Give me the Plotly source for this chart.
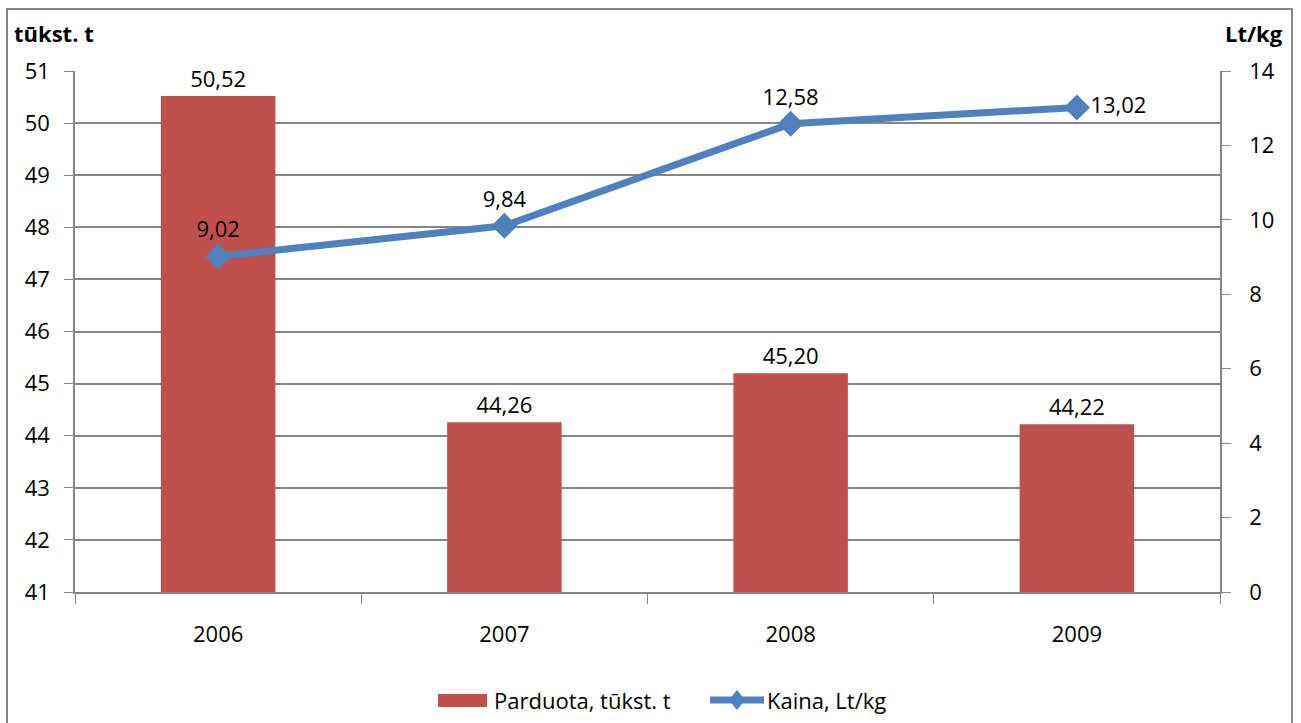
import plotly.graph_objects as go

years = ["2006", "2007", "2008", "2009"]
sold = [50.52, 44.26, 45.20, 44.22]
price = [9.02, 9.84, 12.58, 13.02]
left_ticks = list(range(41, 52))
right_ticks = list(range(0, 15, 2))
bar_name = "Parduota, tūkst. t"
line_name = "Kaina, Lt/kg"

def fmt(v):
    return f"{v:.2f}".replace(".", ",")

FONT = "Open Sans"
FS = 22
W, H = 1301, 723
L, R, T, B = 75, 81, 71, 131
pw, ph = W - L - R, H - T - B

def px(x):
    return (x - L) / pw

def py(y):
    return (592 - y) / ph

fig = go.Figure()
fig.add_trace(go.Bar(
    x=years, y=[v - 41 for v in sold], base=41,
    name=bar_name,
    marker=dict(color="#C0504D", line=dict(width=0)),
    width=0.4,
    text=[fmt(v) for v in sold], textposition="outside",
    textfont=dict(family=FONT, size=FS, color="black"),
    cliponaxis=False,
))
fig.add_trace(go.Scatter(
    x=years, y=price, yaxis="y2", name=line_name,
    mode="lines+markers+text",
    line=dict(color="#4F81BD", width=7),
    marker=dict(symbol="diamond", size=20, color="#4F81BD"),
    text=[fmt(v) for v in price],
    textposition=["top center", "top center", "top center", "middle right"],
    textfont=dict(family=FONT, size=FS, color="black"),
    cliponaxis=False,
))

fig.update_layout(
    width=W, height=H,
    margin=dict(l=L, r=R, t=T, b=B, autoexpand=False),
    paper_bgcolor="white", plot_bgcolor="white",
    font=dict(family=FONT, size=FS, color="black"),
    bargap=0.6,
    showlegend=False,
    xaxis=dict(type="category", showgrid=False, showline=True, linecolor="#868686", linewidth=1.5,
               ticks="outside", tickson="boundaries", ticklen=10, tickcolor="#868686",
               tickfont=dict(family=FONT, size=FS), ticklabelstandoff=22),
    yaxis=dict(range=[41, 51], tickvals=left_ticks, showgrid=True, gridcolor="#868686", gridwidth=1.5,
               showline=True, linecolor="#868686", linewidth=1.5, ticks="outside", ticklen=9,
               tickcolor="#868686", zeroline=False, tickfont=dict(family=FONT, size=FS),
               ticklabelstandoff=10),
    yaxis2=dict(range=[0, 14], tickvals=right_ticks, overlaying="y", side="right", showgrid=False,
                showline=True, linecolor="#868686", linewidth=1.5, ticks="outside", ticklen=9,
                tickcolor="#868686", zeroline=False, tickfont=dict(family=FONT, size=FS),
                ticklabelstandoff=14),
    shapes=[
        dict(type="rect", xref="paper", yref="paper",
             x0=px(7), x1=px(1292), y0=py(730), y1=py(9),
             line=dict(color="#868686", width=2), fillcolor="rgba(0,0,0,0)", layer="below"),
        # legend swatches
        dict(type="rect", xref="paper", yref="paper", x0=px(438), x1=px(487), y0=py(707), y1=py(694),
             fillcolor="#C0504D", line=dict(width=0)),
        dict(type="line", xref="paper", yref="paper", x0=px(710), x1=px(764), y0=py(700), y1=py(700),
             line=dict(color="#4F81BD", width=7)),
        dict(type="path", xref="paper", yref="paper",
             path=f"M {px(729)} {py(700)} L {px(737)} {py(690)} L {px(745)} {py(700)} L {px(737)} {py(710)} Z",
             fillcolor="#4F81BD", line=dict(width=0)),
    ],
    annotations=[
        dict(text="<b>tūkst. t</b>", xref="paper", yref="paper", x=px(12), y=py(33),
             xanchor="left", yanchor="middle", showarrow=False, font=dict(family=FONT, size=FS)),
        dict(text="<b>Lt/kg</b>", xref="paper", yref="paper", x=px(1285), y=py(33),
             xanchor="right", yanchor="middle", showarrow=False, font=dict(family=FONT, size=FS)),
        dict(text=bar_name, xref="paper", yref="paper", x=px(492), y=py(700),
             xanchor="left", yanchor="middle", showarrow=False, font=dict(family=FONT, size=FS)),
        dict(text=line_name, xref="paper", yref="paper", x=px(765), y=py(700),
             xanchor="left", yanchor="middle", showarrow=False, font=dict(family=FONT, size=FS)),
    ],
)

fig.write_html("out.html")
